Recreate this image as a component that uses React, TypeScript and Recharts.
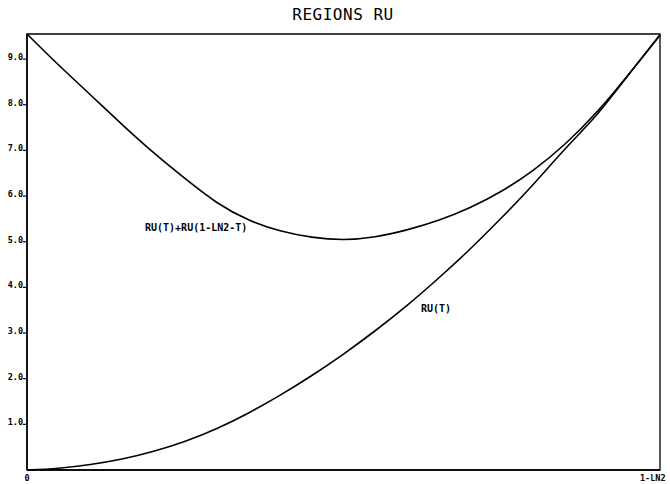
import { LineChart, Line, XAxis, YAxis, ReferenceArea, ReferenceDot } from 'recharts';

// T runs from 0 to 1 - ln 2
const ONE_MINUS_LN2 = 0.30685;

const tValues = [
  0, 0.01534, 0.03069, 0.04603, 0.06137, 0.07671, 0.09206, 0.1074, 0.12274, 0.13808, 0.15343,
  0.16877, 0.18411, 0.19945, 0.2148, 0.23014, 0.24548, 0.26082, 0.27617, 0.29151, 0.30685,
];

// RU(T)
const ruValues = [
  0, 0.04, 0.12, 0.24, 0.41, 0.63, 0.91, 1.25, 1.64, 2.07, 2.54, 3.05, 3.6, 4.2, 4.84, 5.53,
  6.26, 7.03, 7.78, 8.65, 9.53,
];

// RU(T) + RU(1-LN2-T)
const sumValues = [
  9.55, 8.87, 8.22, 7.57, 6.95, 6.38, 5.86, 5.48, 5.24, 5.1, 5.05, 5.11, 5.26, 5.47, 5.75, 6.11,
  6.57, 7.14, 7.84, 8.66, 9.53,
];

const yTicks = [1, 2, 3, 4, 5, 6, 7, 8, 9];
const xTicks = [0, ONE_MINUS_LN2];
const xTickLabels = ['0', '1-LN2'];

const data = tValues.map((t, i) => ({ t, ru: ruValues[i], sum: sumValues[i] }));

const Y_MAX = 9.55;
const labelFont = '"DejaVu Sans Mono", monospace';

function YTick({ x, y, payload }: any) {
  return (
    <text x={x} y={y + 1} textAnchor="end" fontSize={8.5} fontWeight="bold" fontFamily={labelFont} fill="#000">
      {payload.value.toFixed(1)}
    </text>
  );
}

function XTick({ x, y, payload, index }: any) {
  const last = index === xTicks.length - 1;
  return (
    <text
      x={last ? x - 20 : x}
      y={y + 3}
      textAnchor={last ? 'start' : 'middle'}
      fontSize={8.5}
      fontWeight="bold"
      fontFamily={labelFont}
      fill="#000"
    >
      {xTickLabels[index]}
    </text>
  );
}

const curveLabel = {
  position: 'right' as const,
  offset: 0,
  fontSize: 10,
  fontWeight: 'bold',
  fontFamily: labelFont,
  fill: '#000',
};

export default function App() {
  return (
    <div style={{ position: 'absolute', left: 0, top: 0, width: 670, height: 484, background: '#fff' }}>
      <div
        style={{
          position: 'absolute',
          top: 5,
          left: 0,
          width: 686,
          textAlign: 'center',
          fontFamily: labelFont,
          fontSize: 16,
          letterSpacing: 0.5,
          color: '#000',
        }}
      >
        REGIONS RU
      </div>
      <LineChart width={670} height={484} data={data} margin={{ top: 34, right: 10, left: 0, bottom: 0 }}>
        <XAxis
          dataKey="t"
          type="number"
          domain={[0, ONE_MINUS_LN2]}
          ticks={xTicks}
          tick={<XTick />}
          tickLine={false}
          axisLine={{ stroke: '#000', strokeWidth: 1.5 }}
          height={14}
          interval={0}
        />
        <YAxis
          type="number"
          domain={[0, Y_MAX]}
          ticks={yTicks}
          tick={<YTick />}
          tickSize={4}
          tickMargin={0}
          tickLine={{ stroke: '#000', strokeWidth: 1.2 }}
          axisLine={{ stroke: '#000', strokeWidth: 1.5 }}
          width={27}
          interval={0}
        />
        <ReferenceArea x1={0} x2={ONE_MINUS_LN2} y1={0} y2={Y_MAX} fill="none" stroke="#000" strokeWidth={1.3} />
        <Line
          dataKey="sum"
          type="natural"
          stroke="#000"
          strokeWidth={1.6}
          dot={false}
          isAnimationActive={false}
        />
        <Line
          dataKey="ru"
          type="natural"
          stroke="#000"
          strokeWidth={1.6}
          dot={false}
          isAnimationActive={false}
        />
        <ReferenceDot x={0.0572} y={5.32} r={0} stroke="none" label={{ ...curveLabel, value: 'RU(T)+RU(1-LN2-T)' }} />
        <ReferenceDot x={0.191} y={3.54} r={0} stroke="none" label={{ ...curveLabel, value: 'RU(T)' }} />
      </LineChart>
    </div>
  );
}
